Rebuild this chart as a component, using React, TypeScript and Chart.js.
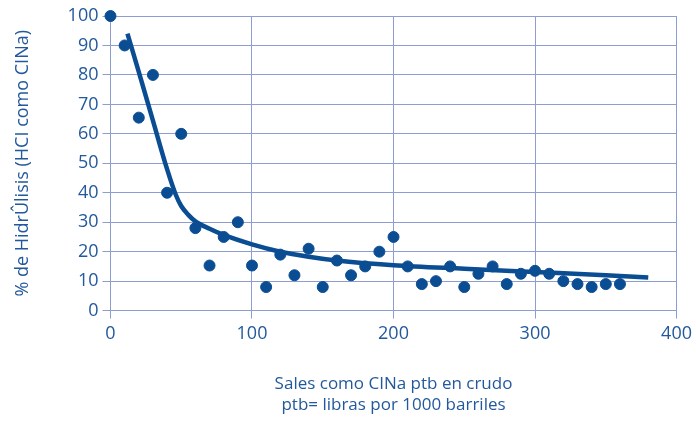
import React, { useEffect, useRef } from "react";
import { Chart, registerables } from "chart.js";

Chart.register(...registerables);

const pointX = [0, 10, 20, 30, 40, 50, 60, 70, 80, 90, 100, 110, 120, 130, 140, 150, 160, 170, 180, 190, 200, 210, 220, 230, 240, 250, 260, 270, 280, 290, 300, 310, 320, 330, 340, 350, 360];
const pointY = [100, 90, 65.5, 80, 40, 60, 28, 15.3, 25, 30, 15.3, 8, 19, 12, 21, 8, 17, 12, 15, 20, 25, 15, 9, 10, 15, 8, 12.5, 15, 9, 12.5, 13.5, 12.5, 10, 9, 8, 9, 9];

const curveX = [12, 20, 30, 40, 46, 50, 55, 60, 70, 80, 100, 120, 140, 160, 200, 250, 300, 350, 380];
const curveY = [94, 81, 64.5, 48, 39.5, 35.5, 32.5, 30.3, 27.8, 25.7, 22.5, 20, 18.3, 17, 15.4, 14.2, 13.1, 12, 11.2];

const xTitle = ["Sales como CINa ptb en crudo", "ptb= libras por 1000 barriles"];
const yTitle = "% de HidrÛlisis (HCI como CINa)";

const BLUE = "#0b4d93";
const TEXT = "#23599c";
const GRID = "#8e9dd0";
const FONT = "'Open Sans', sans-serif";

export default function App() {
  const ref = useRef<HTMLCanvasElement>(null);
  useEffect(() => {
    document.body.style.margin = "0";
    const chart = new Chart(ref.current!, {
      type: "scatter",
      data: {
        datasets: [
          {
            data: pointX.map((x, i) => ({ x, y: pointY[i] })),
            backgroundColor: BLUE,
            borderColor: BLUE,
            pointRadius: 5.5,
            showLine: false,
            clip: false,
            order: 1,
          },
          {
            data: curveX.map((x, i) => ({ x, y: curveY[i] })),
            borderColor: BLUE,
            borderWidth: 4.5,
            pointRadius: 0,
            showLine: true,
            cubicInterpolationMode: "monotone",
            clip: false,
            order: 2,
          },
        ],
      },
      options: {
        animation: false,
        responsive: false,
        layout: { padding: { top: 16, right: 18, bottom: 8, left: 12 } },
        plugins: { legend: { display: false }, tooltip: { enabled: false } },
        scales: {
          x: {
            type: "linear",
            min: 0,
            max: 400,
            ticks: { stepSize: 100, color: TEXT, font: { family: FONT, size: 18 }, padding: 4 },
            grid: { color: GRID, lineWidth: 1, tickLength: 8, drawTicks: true },
            border: { display: false },
            title: {
              display: true,
              text: xTitle,
              color: TEXT,
              font: { family: FONT, size: 17 },
              padding: { top: 26, bottom: 0 },
            },
          },
          y: {
            min: 0,
            max: 100,
            ticks: { stepSize: 10, color: TEXT, font: { family: FONT, size: 18 }, padding: 4 },
            grid: { color: GRID, lineWidth: 1, tickLength: 8 },
            border: { display: false },
            title: {
              display: true,
              text: yTitle,
              color: TEXT,
              font: { family: FONT, size: 18 },
              padding: { top: 0, bottom: 30 },
            },
          },
        },
      },
    });
    return () => chart.destroy();
  }, []);
  return <canvas ref={ref} width={696} height={423} style={{ display: "block" }} />;
}
